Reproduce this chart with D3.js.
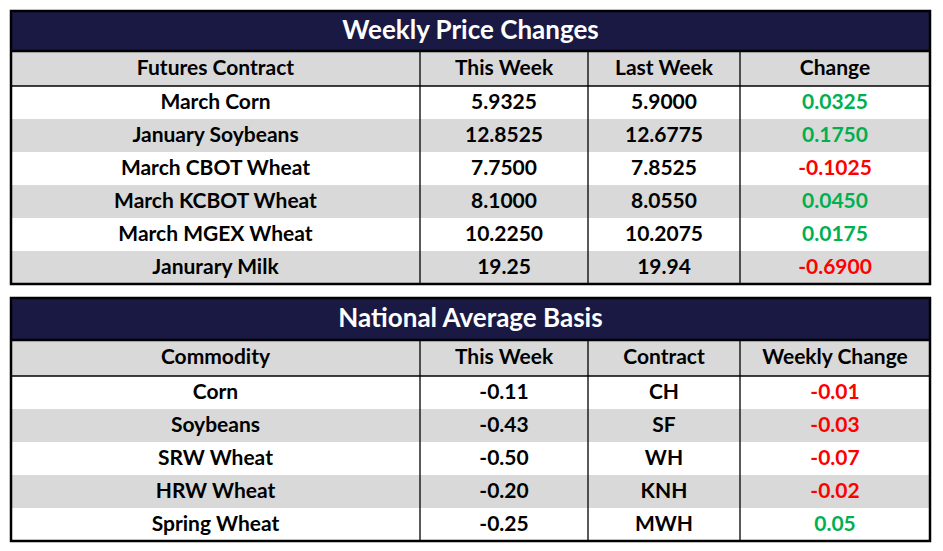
<!DOCTYPE html><html><head><meta charset="utf-8">
<script src="https://cdn.jsdelivr.net/npm/d3@7"></script>
<style>body{margin:0;background:#fff}</style></head><body>
<svg id="c" width="943" height="551"></svg>
<script>
const t1Title="Weekly Price Changes";
const t1Header=["Futures Contract","This Week","Last Week","Change"];
const t1Contracts=["March Corn","January Soybeans","March CBOT Wheat","March KCBOT Wheat","March MGEX Wheat","Janurary Milk"];
const t1This=["5.9325","12.8525","7.7500","8.1000","10.2250","19.25"];
const t1Last=["5.9000","12.6775","7.8525","8.0550","10.2075","19.94"];
const t1Change=[0.0325,0.1750,-0.1025,0.0450,0.0175,-0.6900];
const t1ChangeLabels=["0.0325","0.1750","-0.1025","0.0450","0.0175","-0.6900"];
const t2Title="National Average Basis";
const t2Header=["Commodity","This Week","Contract","Weekly Change"];
const t2Commodity=["Corn","Soybeans","SRW Wheat","HRW Wheat","Spring Wheat"];
const t2This=["-0.11","-0.43","-0.50","-0.20","-0.25"];
const t2Contract=["CH","SF","WH","KNH","MWH"];
const t2Change=[-0.01,-0.03,-0.07,-0.02,0.05];
const t2ChangeLabels=["-0.01","-0.03","-0.07","-0.02","0.05"];

const svg=d3.select("#c");
const x=d3.scaleOrdinal().domain([0,1,2,3,4]).range([11,420,588,740,930]);
const F="Lato, 'Open Sans', sans-serif";
function table(top,titleH,headH,rowH,title,header,cols,changes,firstGray){
  const n=cols[0].length;
  const g=svg.append("g");
  const L=x(0),R=x(4);
  g.append("rect").attr("x",L).attr("y",top).attr("width",R-L).attr("height",titleH).attr("fill","#191944");
  g.append("text").attr("x",(L+R)/2).attr("y",top+titleH/2+1).attr("text-anchor","middle").attr("dominant-baseline","middle")
   .attr("fill","#fff").attr("font-family",F).attr("font-weight",700).attr("font-size",26).text(title);
  const hy=top+titleH;
  g.append("rect").attr("x",L).attr("y",hy).attr("width",R-L).attr("height",headH).attr("fill","#d9d9d9");
  header.forEach((h,i)=>g.append("text").attr("x",(x(i)+x(i+1))/2).attr("y",hy+headH/2+1).attr("text-anchor","middle")
    .attr("dominant-baseline","middle").attr("font-family",F).attr("font-weight",700).attr("font-size",21).attr("fill","#000").text(h));
  const by=hy+headH;
  const y=d3.scaleBand().domain(d3.range(n)).range([by,by+n*rowH]);
  for(let r=0;r<n;r++){
    g.append("rect").attr("x",L).attr("y",y(r)).attr("width",R-L).attr("height",rowH)
     .attr("fill",((r%2===1)!==firstGray)?"#d9d9d9":"#fff");
    cols.forEach((c,i)=>{
      const isCh=i===3;
      g.append("text").attr("x",(x(i)+x(i+1))/2).attr("y",y(r)+rowH/2+1).attr("text-anchor","middle")
       .attr("dominant-baseline","middle").attr("font-family",F).attr("font-weight",700).attr("font-size",21)
       .attr("fill",isCh?(changes[r]<0?"#ff0000":"#00b050"):"#000").text(c[r]);
    });
  }
  const bottom=by+n*rowH;
  [1,2,3].forEach(i=>g.append("line").attr("x1",x(i)).attr("x2",x(i)).attr("y1",hy).attr("y2",bottom).attr("stroke","#000").attr("stroke-width",1.3));
  g.append("line").attr("x1",L).attr("x2",R).attr("y1",by).attr("y2",by).attr("stroke","#000").attr("stroke-width",1.3);
  g.append("line").attr("x1",L).attr("x2",R).attr("y1",hy).attr("y2",hy).attr("stroke","#000").attr("stroke-width",2.5);
  g.append("rect").attr("x",L).attr("y",top).attr("width",R-L).attr("height",bottom-top).attr("fill","none").attr("stroke","#000").attr("stroke-width",2.5);
}
table(11,40,35,33,t1Title,t1Header,[t1Contracts,t1This,t1Last,t1ChangeLabels],t1Change,false);
table(298,42,36,33,t2Title,t2Header,[t2Commodity,t2This,t2Contract,t2ChangeLabels],t2Change,false);
</script></body></html>
